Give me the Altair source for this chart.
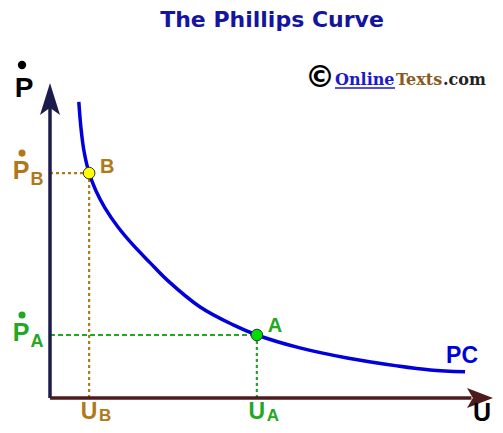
import altair as alt
import pandas as pd

# ---- data (U = unemployment, P = inflation) ----
curve_u = [0.67, 0.72, 0.79, 0.91, 1.07, 1.28, 1.58, 1.93, 2.33, 2.72, 3.49, 4.26,
           4.81, 5.81, 6.91, 8.07, 8.84, 9.65]
curve_p = [9.40, 8.57, 7.84, 7.14, 6.57, 6.03, 5.43, 4.86, 4.29, 3.75, 2.89, 2.32,
           2.00, 1.59, 1.27, 1.02, 0.89, 0.83]

point_names = ["B", "A"]
point_u = [0.91, 4.81]
point_p = [7.14, 2.00]

U_MAX = 10.3
P_MAX = 10.0

TITLE = "The Phillips Curve"
CURVE_LABEL = "PC"
WM_PARTS = ["Online", "Texts", ".com"]

label_colors = {"B": "#b07818", "A": "#22a822"}
marker_colors = {"B": "#ffff00", "A": "#00dd00"}

curve = pd.DataFrame({"U": curve_u, "P": curve_p})
pts = pd.DataFrame({"name": point_names, "U": point_u, "P": point_p,
                    "zero": [0.0] * len(point_names)})

xs = alt.Scale(domain=[0, U_MAX], nice=False, zero=False)
ys = alt.Scale(domain=[0, P_MAX], nice=False, zero=False)


def X(f):
    return alt.X(f, type="quantitative", scale=xs, axis=None)


def Y(f):
    return alt.Y(f, type="quantitative", scale=ys, axis=None)


base = alt.Chart(pts)
layers = []

# dotted guide lines
for name, hdash, vdash in [("B", [3, 3], [3, 3]), ("A", [5, 3], [3, 3])]:
    c = label_colors[name]
    sel = base.transform_filter(alt.datum.name == name)
    layers.append(sel.mark_rule(strokeDash=hdash, color=c, strokeWidth=2.2)
                  .encode(x=X("zero"), x2="U:Q", y=Y("P")))
    layers.append(sel.mark_rule(strokeDash=vdash, color=c, strokeWidth=2.2)
                  .encode(x=X("U"), y=Y("zero"), y2="P:Q"))

# axes
axes_df = pd.DataFrame({"x0": [0.0], "y0": [0.0], "xe": [U_MAX - 0.5], "ye": [P_MAX - 0.7]})
layers.append(alt.Chart(axes_df).mark_rule(color="#1c1c4c", strokeWidth=3.5)
              .encode(x=X("x0"), y=Y("y0"), y2="ye:Q"))
layers.append(alt.Chart(axes_df).mark_rule(color="#4c1c1c", strokeWidth=3.5)
              .encode(x=X("x0"), x2="xe:Q", y=Y("y0")))
tips = pd.DataFrame({"U": [0.0, U_MAX], "P": [P_MAX, 0.0], "k": ["y", "x"]})
layers.append(alt.Chart(tips).transform_filter(alt.datum.k == "y")
              .mark_point(shape="M0,0 L0.625,2 L0,1.55 L-0.625,2 Z", size=1024,
                          filled=True, color="#1c1c4c", opacity=1)
              .encode(x=X("U"), y=Y("P")))
layers.append(alt.Chart(tips).transform_filter(alt.datum.k == "x")
              .mark_point(shape="M0,0 L-2,-0.77 L-1.55,0 L-2,0.77 Z", size=676,
                          filled=True, color="#4c1c1c", opacity=1)
              .encode(x=X("U"), y=Y("P")))

# curve
layers.append(alt.Chart(curve).mark_line(interpolate="catmull-rom", color="#0000dd",
                                         strokeWidth=3.5)
              .encode(x=X("U"), y=Y("P"), order="U:Q"))

# points
layers.append(base.mark_circle(size=135, stroke="#333333", strokeWidth=1, opacity=1)
              .encode(x=X("U"), y=Y("P"),
                      fill=alt.Fill("name:N", scale=alt.Scale(domain=point_names,
                                    range=[marker_colors[n] for n in point_names]),
                                    legend=None)))

lab_col = alt.Color("name:N", scale=alt.Scale(domain=point_names,
                    range=[label_colors[n] for n in point_names]), legend=None)
FONT = "Liberation Sans"

# point letters
layers.append(base.transform_filter(alt.datum.name == "B")
              .mark_text(font=FONT, fontWeight="bold", fontSize=20, dx=18, dy=-6)
              .encode(x=X("U"), y=Y("P"), text="name:N", color=lab_col))
layers.append(base.transform_filter(alt.datum.name == "A")
              .mark_text(font=FONT, fontWeight="bold", fontSize=20, dx=18, dy=-9)
              .encode(x=X("U"), y=Y("P"), text="name:N", color=lab_col))

# P-dot labels on the vertical axis
layers.append(base.transform_calculate(t="'P'")
              .mark_text(font=FONT, fontWeight="bold", fontSize=25, dx=-29, dy=-2)
              .encode(x=X("zero"), y=Y("P"), text="t:N", color=lab_col))
layers.append(base.mark_text(font=FONT, fontWeight="bold", fontSize=18, dx=-13, dy=7)
              .encode(x=X("zero"), y=Y("P"), text="name:N", color=lab_col))
layers.append(base.mark_circle(size=50, opacity=1, xOffset=-28, yOffset=-20)
              .encode(x=X("zero"), y=Y("P"), color=lab_col))

# U labels on the horizontal axis
layers.append(base.transform_calculate(t="'U'")
              .mark_text(font=FONT, fontWeight="bold", fontSize=23, dx=0, dy=14)
              .encode(x=X("U"), y=Y("zero"), text="t:N", color=lab_col))
layers.append(base.mark_text(font=FONT, fontWeight="bold", fontSize=17, dx=16, dy=18)
              .encode(x=X("U"), y=Y("zero"), text="name:N", color=lab_col))

# axis titles
ttl = pd.DataFrame({"U": [0.0, U_MAX], "P": [P_MAX, 0.0], "t": ["P", "U"]})
layers.append(alt.Chart(ttl).transform_filter(alt.datum.t == "P")
              .mark_text(font=FONT, fontWeight="bold", fontSize=28, dx=-26, dy=6, color="black")
              .encode(x=X("U"), y=Y("P"), text="t:N"))
layers.append(alt.Chart(ttl).transform_filter(alt.datum.t == "P")
              .mark_circle(size=70, opacity=1, color="black", xOffset=-28, yOffset=-18)
              .encode(x=X("U"), y=Y("P")))
layers.append(alt.Chart(ttl).transform_filter(alt.datum.t == "U")
              .mark_text(font=FONT, fontWeight="bold", fontSize=25, dx=-11, dy=15, color="black")
              .encode(x=X("U"), y=Y("P"), text="t:N"))

# curve label
last = curve.tail(1).assign(t=CURVE_LABEL)
layers.append(alt.Chart(last)
              .mark_text(font=FONT, fontWeight="bold", fontSize=23, dx=-3, dy=-16, color="#0000dd")
              .encode(x=X("U"), y=Y("P"), text="t:N"))

# title and watermark
one = pd.DataFrame({"title": [TITLE], "c": ["\u00a9"], "o": [WM_PARTS[0]],
                    "tx": [WM_PARTS[1]], "com": [WM_PARTS[2]]})
layers.append(alt.Chart(one).mark_text(font="DejaVu Sans", fontWeight="bold", fontSize=22,
                                       color="#1414a0", baseline="middle")
              .encode(text="title:N", x=alt.value(222), y=alt.value(-63)))
layers.append(alt.Chart(one).mark_text(font="DejaVu Sans", fontWeight="bold", fontSize=30,
                                       color="black", baseline="middle")
              .encode(text="c:N", x=alt.value(270), y=alt.value(-5)))
layers.append(alt.Chart(one).mark_text(font="DejaVu Serif", fontWeight="bold", fontSize=16,
                                       color="#1a1acc", baseline="alphabetic", align="left")
              .encode(text="o:N", x=alt.value(285), y=alt.value(2)))
layers.append(alt.Chart(one).mark_rule(color="#1a1acc", strokeWidth=1.5)
              .encode(x=alt.value(285), x2=alt.value(345), y=alt.value(5)))
layers.append(alt.Chart(one).mark_text(font="DejaVu Serif", fontWeight="bold", fontSize=16,
                                       color="#8a5a20", baseline="alphabetic", align="left")
              .encode(text="tx:N", x=alt.value(346), y=alt.value(2)))
layers.append(alt.Chart(one).mark_text(font="DejaVu Serif", fontWeight="bold", fontSize=16,
                                       color="#222222", baseline="alphabetic", align="left")
              .encode(text="com:N", x=alt.value(393), y=alt.value(2)))

chart = alt.layer(*layers).properties(
    width=443, height=315,
    autosize=alt.AutoSizeParams(type="none"),
    padding={"left": 42, "top": 75, "right": 2, "bottom": 27},
).configure_view(stroke=None)

chart.save("out.html", embed_options={"renderer": "svg", "actions": False})
